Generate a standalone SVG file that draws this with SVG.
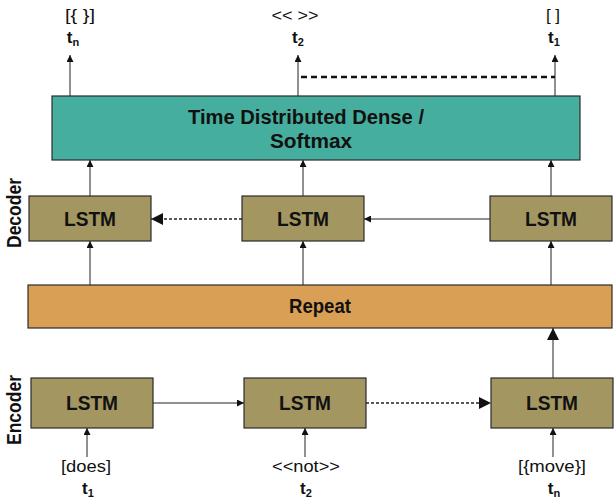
<svg xmlns="http://www.w3.org/2000/svg" width="614" height="502" viewBox="0 0 614 502">
<style>
.lstm{fill:#a39660;stroke:#2b2b2b;stroke-width:1.2}
.lt{font-family:"Liberation Sans",Arial,sans-serif;font-weight:bold;font-size:20px;fill:#111;text-anchor:middle}
.lab{font-family:"Liberation Sans",Arial,sans-serif;font-size:17px;fill:#111;text-anchor:middle}
.t{font-family:"Liberation Sans",Arial,sans-serif;font-weight:bold;font-size:17px;fill:#111;text-anchor:middle}
.ln{stroke:#222;stroke-width:1;fill:none}
.dash{stroke:#222;stroke-width:1.5;stroke-dasharray:3,2;fill:none}
.bdash{stroke:#111;stroke-width:2.5;stroke-dasharray:6,4;fill:none}
</style>
<defs>
<marker id="a" viewBox="0 0 10 10" refX="10" refY="5" markerWidth="9" markerHeight="7" markerUnits="userSpaceOnUse" orient="auto"><path d="M0,0 L10,5 L0,10 z" fill="#111"/></marker>
<marker id="ab" viewBox="0 0 10 10" refX="10" refY="5" markerWidth="16" markerHeight="12" markerUnits="userSpaceOnUse" orient="auto"><path d="M0,0 L10,5 L0,10 z" fill="#111"/></marker>
</defs>
<rect width="614" height="502" fill="#fff"/>

<g id="connectors">
<line class="ln" x1="70" y1="96" x2="70" y2="55" marker-end="url(#a)"/>
<line class="ln" x1="298" y1="96" x2="298" y2="55" marker-end="url(#a)"/>
<line class="ln" x1="555" y1="96" x2="555" y2="55" marker-end="url(#a)"/>
<line class="bdash" x1="301" y1="77" x2="555" y2="77"/>
<line class="ln" x1="90" y1="196" x2="90" y2="160" marker-end="url(#a)"/>
<line class="ln" x1="303" y1="196" x2="303" y2="160" marker-end="url(#a)"/>
<line class="ln" x1="551" y1="196" x2="551" y2="160" marker-end="url(#a)"/>
<line class="ln" x1="490" y1="219" x2="364" y2="219" marker-end="url(#a)"/>
<line class="dash" x1="242" y1="219" x2="151" y2="219" marker-end="url(#ab)"/>
<line class="ln" x1="90" y1="285" x2="90" y2="241" marker-end="url(#a)"/>
<line class="ln" x1="303" y1="285" x2="303" y2="241" marker-end="url(#a)"/>
<line class="ln" x1="551" y1="285" x2="551" y2="241" marker-end="url(#a)"/>
<line class="ln" x1="553" y1="378" x2="553" y2="328" marker-end="url(#ab)"/>
<line class="ln" x1="153" y1="403" x2="244" y2="403" marker-end="url(#a)"/>
<line class="dash" x1="366" y1="403" x2="491" y2="403" marker-end="url(#ab)"/>
<line class="ln" x1="87" y1="457" x2="87" y2="428" marker-end="url(#a)"/>
<line class="ln" x1="305" y1="457" x2="305" y2="428" marker-end="url(#a)"/>
<line class="ln" x1="553" y1="457" x2="553" y2="428" marker-end="url(#a)"/>
</g>

<g id="softmax">
<rect x="52" y="96" width="528" height="64" fill="#46ae9e" stroke="#2b2b2b" stroke-width="1.2"/>
<text class="lt" x="306" y="124" textLength="236" lengthAdjust="spacingAndGlyphs">Time Distributed Dense /</text>
<text class="lt" x="311" y="148" textLength="82" lengthAdjust="spacingAndGlyphs">Softmax</text>
</g>

<g id="dec1"><rect class="lstm" x="29" y="196" width="122" height="45"/><text class="lt" x="90" y="226" textLength="52" lengthAdjust="spacingAndGlyphs">LSTM</text></g>
<g id="dec2"><rect class="lstm" x="242" y="196" width="122" height="45"/><text class="lt" x="303" y="226" textLength="52" lengthAdjust="spacingAndGlyphs">LSTM</text></g>
<g id="dec3"><rect class="lstm" x="490" y="196" width="122" height="45"/><text class="lt" x="551" y="226" textLength="52" lengthAdjust="spacingAndGlyphs">LSTM</text></g>

<g id="repeat">
<rect x="28" y="285" width="584" height="43" fill="#d9a055" stroke="#2b2b2b" stroke-width="1.2"/>
<text class="lt" x="320" y="313" textLength="62" lengthAdjust="spacingAndGlyphs">Repeat</text>
</g>

<g id="enc1"><rect class="lstm" x="31" y="378" width="122" height="50"/><text class="lt" x="92" y="410" textLength="52" lengthAdjust="spacingAndGlyphs">LSTM</text></g>
<g id="enc2"><rect class="lstm" x="244" y="378" width="122" height="50"/><text class="lt" x="305" y="410" textLength="52" lengthAdjust="spacingAndGlyphs">LSTM</text></g>
<g id="enc3"><rect class="lstm" x="491" y="378" width="122" height="50"/><text class="lt" x="552" y="410" textLength="52" lengthAdjust="spacingAndGlyphs">LSTM</text></g>

<g id="side-labels">
<text class="lt" transform="translate(21,213) rotate(-90)" textLength="70" lengthAdjust="spacingAndGlyphs">Decoder</text>
<text class="lt" transform="translate(21,410) rotate(-90)" textLength="70" lengthAdjust="spacingAndGlyphs">Encoder</text>
</g>

<g id="out-labels">
<text class="lab" x="80" y="21" textLength="30" lengthAdjust="spacingAndGlyphs">[{ }]</text>
<text class="t" x="73" y="43">t<tspan font-size="11" dy="3">n</tspan></text>
<text class="lab" x="295" y="21" textLength="47" lengthAdjust="spacingAndGlyphs">&lt;&lt; &gt;&gt;</text>
<text class="t" x="298" y="43">t<tspan font-size="11" dy="3">2</tspan></text>
<text class="lab" x="553" y="21">[ ]</text>
<text class="t" x="554" y="43">t<tspan font-size="11" dy="3">1</tspan></text>
</g>

<g id="in-labels">
<text class="lab" x="86" y="472" textLength="50" lengthAdjust="spacingAndGlyphs">[does]</text>
<text class="t" x="88" y="494">t<tspan font-size="11" dy="3">1</tspan></text>
<text class="lab" x="306" y="472" textLength="68" lengthAdjust="spacingAndGlyphs">&lt;&lt;not&gt;&gt;</text>
<text class="t" x="306" y="494">t<tspan font-size="11" dy="3">2</tspan></text>
<text class="lab" x="552" y="472" textLength="68" lengthAdjust="spacingAndGlyphs">[{move}]</text>
<text class="t" x="554" y="494">t<tspan font-size="11" dy="3">n</tspan></text>
</g>
</svg>
